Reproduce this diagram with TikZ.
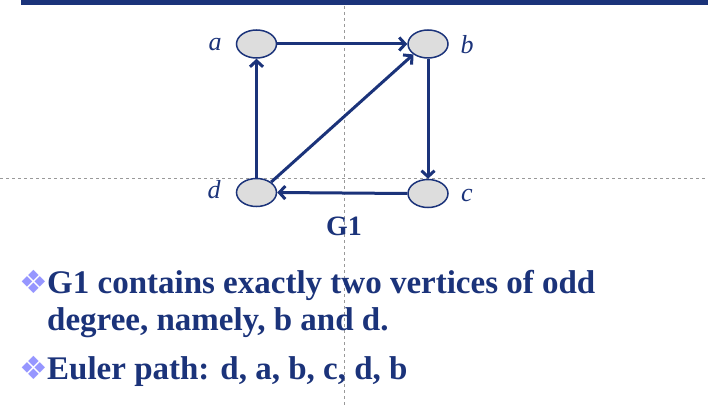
\documentclass[tikz,border=0pt]{standalone}
\usepackage{fontspec}
\setmainfont{Liberation Serif}
\newfontfamily\symfont{DejaVu Sans}
\usetikzlibrary{arrows.meta,shapes.geometric}

\definecolor{slideblue}{RGB}{27,51,122}
\definecolor{nodegray}{RGB}{221,221,221}
\definecolor{bulletblue}{RGB}{150,150,255}

\tikzset{
  vertex/.style={ellipse, draw=slideblue, fill=nodegray, line width=1.5pt,
    minimum width=40pt, minimum height=28pt, inner sep=0pt},
  arc/.style={-{Straight Barb[length=6pt,width=13pt]}, line width=3pt, slideblue},
  vname/.style={font=\itshape\fontsize{26}{28}\selectfont, text=slideblue},
  guide/.style={gray!80, line width=0.7pt, dash pattern=on 3pt off 3pt},
  bodytext/.style={font=\bfseries\fontsize{33}{36}\selectfont, text=slideblue,
    anchor=base west, inner sep=0pt},
  diamonds/.style={font=\symfont\fontsize{32}{34}\selectfont, text=bulletblue, inner sep=0pt}
}

\begin{document}
\begin{tikzpicture}[x=1pt,y=-1pt]
\useasboundingbox (0,0) rectangle (708,406);
% slide guides
\draw[guide] (344,0) -- (344,406);
\draw[guide] (0,178) -- (708,178);
\fill[slideblue] (21,0) rectangle (708,5);

% graph G1
\node[vertex] (a) at (256.5,44) {};
\node[vertex] (b) at (428,44) {};
\node[vertex] (c) at (428,193.5) {};
\node[vertex] (d) at (256.5,192.5) {};
\node[vname] (la) at (215,45) {a};
\node[vname] (lb) at (467,45) {b};
\node[vname] (lc) at (467,196) {c};
\node[vname] (ld) at (214,190) {d};

\draw[arc] (a.east) -- (b.west);
\draw[arc] (b.south) -- (c.north);
\draw[arc] (c.west) -- (d.east);
\draw[arc] (d.north) -- (a.south);
\draw[arc] (d.north east) -- (b.south west);

\node[font=\bfseries\fontsize{28}{30}\selectfont, text=slideblue] (g1) at (344,226) {G1};

% bullets
\node[diamonds] (m1) at (34,282) {❖};
\node[bodytext] (t1) at (47,293) {G1 contains exactly two vertices of odd};
\node[bodytext] (t2) at (47,330) {degree, namely, b and d.};
\node[diamonds] (m2) at (34,368) {❖};
\node[bodytext] (t3) at (47,379) {Euler path: d, a, b, c, d, b};
\end{tikzpicture}
\end{document}
